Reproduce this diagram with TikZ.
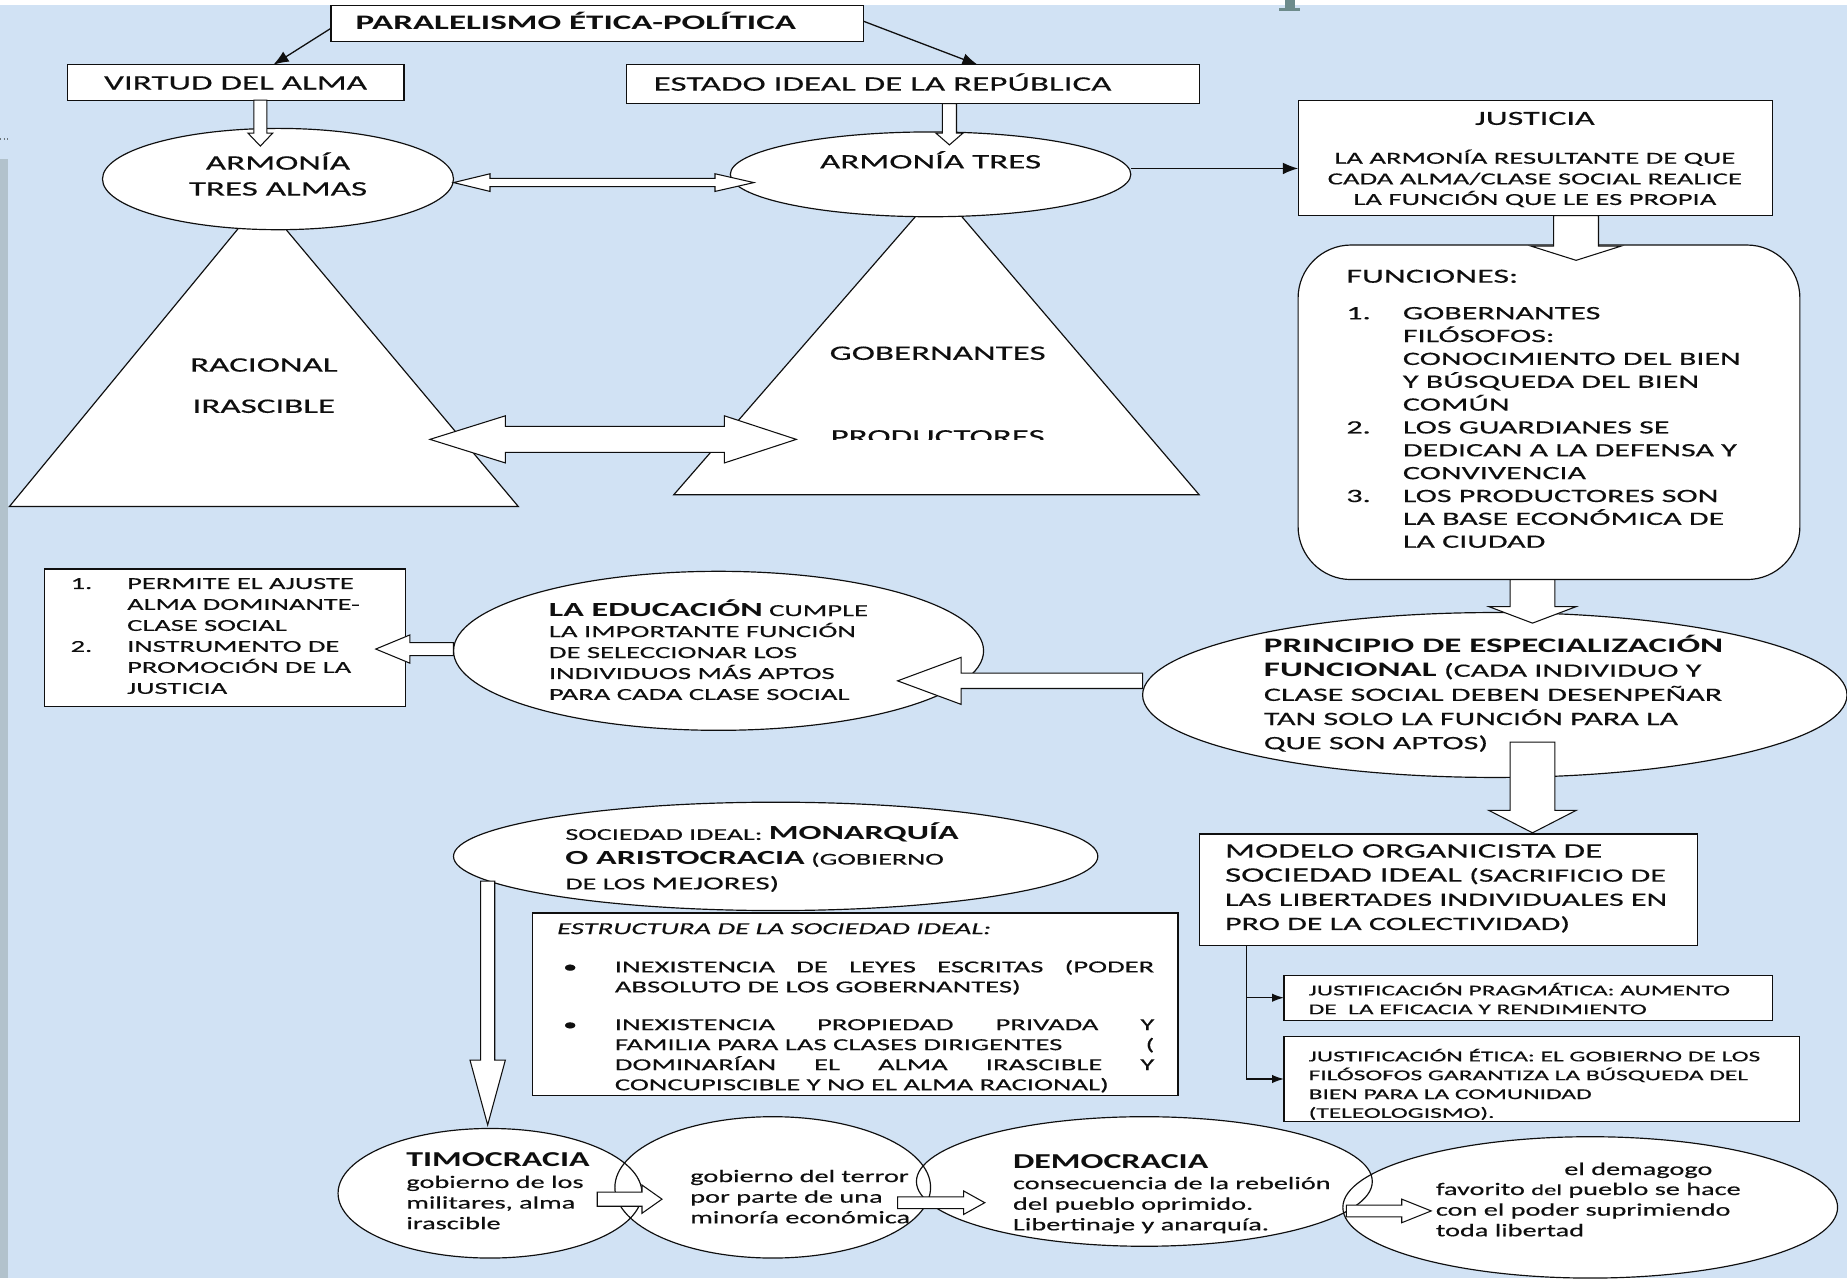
\documentclass[tikz,border=0pt]{standalone}
\usepackage{fontspec}
\setmainfont{Carlito}[FakeStretch=1.7, UprightFeatures={FakeBold=0.35}, ItalicFeatures={FakeBold=0.35}]
\newfontfamily\lowf{Carlito}[FakeStretch=1.6, UprightFeatures={FakeBold=0.35}]
\usetikzlibrary{shapes.geometric,arrows.meta,calc}
\definecolor{bgblue}{RGB}{209,226,244}
\definecolor{stripgray}{RGB}{178,194,204}
\definecolor{pgray}{RGB}{110,140,140}
\definecolor{ink}{RGB}{15,15,15}
\newcommand\fsz[2]{\fontsize{#1}{#2}\selectfont}
\newcommand\mlt[1]{\begin{tabular}[t]{@{}l@{}}#1\end{tabular}}
\newcommand\mct[1]{\begin{tabular}[t]{@{}c@{}}#1\end{tabular}}
\newcommand\nb[1]{\makebox[48pt][l]{#1}}
\newcommand\bl[1]{\makebox[44pt][l]{#1}}
\newcommand\hblk[6]{\draw[blk] (#1,#4-#5) -- (#2,#4-#5) -- (#2,#4-#6) -- (#3,#4) -- (#2,#4+#6) -- (#2,#4+#5) -- (#1,#4+#5) -- cycle;}
\newcommand\vblk[6]{\draw[blk] (#4-#5,#1) -- (#4-#5,#2) -- (#4-#6,#2) -- (#4,#3) -- (#4+#6,#2) -- (#4+#5,#2) -- (#4+#5,#1) -- cycle;}
\newcommand\hdbl[7]{\draw[blk] (#1,#5) -- (#2,#5-#7) -- (#2,#5-#6) -- (#3,#5-#6) -- (#3,#5-#7) -- (#4,#5) -- (#3,#5+#7) -- (#3,#5+#6) -- (#2,#5+#6) -- (#2,#5+#7) -- cycle;}
\tikzset{
 shp/.style={draw=ink, fill=white, line width=1pt, inner sep=0pt, outer sep=0pt},
 rbox/.style={shp, rectangle},
 ebox/.style={shp, ellipse},
 tx/.style={inner sep=0pt, outer sep=0pt, anchor=base west, text=ink},
 blk/.style={draw=ink, fill=white, line width=0.9pt, line join=miter},
 thinar/.style={draw=ink, line width=1.1pt, -{Latex[length=13pt,width=10pt]}},
 thinars/.style={draw=ink, line width=1pt, -{Latex[length=10pt,width=7pt]}},
}
\begin{document}
\begin{tikzpicture}[x=1pt,y=-1pt]
\useasboundingbox (0,0) rectangle (1568,1085);
% background
\fill[bgblue] (0,0) rectangle (1568,1085);
\fill[white] (0,0) rectangle (1568,4);
\fill[stripgray] (0,135) rectangle (7,1085);
\draw[stripgray!60!black, dotted, line width=1pt] (0,118) -- (8,118);
\fill[pgray] (1091,0) rectangle (1099,8);
\fill[pgray] (1086,7) rectangle (1104,9.5);

% top boxes
\node[rbox, minimum width=452pt, minimum height=30pt] (title) at (507,20) {};
\node[rbox, minimum width=286pt, minimum height=30pt] (virtud) at (200,70) {};
\node[rbox, minimum width=486pt, minimum height=33pt] (estado) at (775,71.5) {};
\node[tx] (ttitle) at (302,25) {\fsz{17.5}{21}\bfseries PARALELISMO ÉTICA-POLÍTICA};
\node[tx, anchor=base] (tvirtud) at (200,76) {\fsz{17.5}{21}VIRTUD DEL ALMA};
\node[tx] (testado) at (555,77) {\fsz{17.5}{21}ESTADO IDEAL DE LA REPÚBLICA};

% triangles
\filldraw[shp] (222,170) -- (8,430) -- (440,430) -- cycle;
\filldraw[shp] (797,161) -- (572,420) -- (1018,420) -- cycle;
\node[tx, anchor=base] (tracional) at (224,315.5) {\fsz{17.5}{21}RACIONAL};
\node[tx, anchor=base] (tirasc) at (224,350.5) {\fsz{17.5}{21}IRASCIBLE};
\node[tx, anchor=base] (tgob) at (796,305.5) {\fsz{17.5}{21}GOBERNANTES};
\begin{scope}
\clip (680,340) rectangle (920,373);
\node[tx, anchor=base] (tprod) at (796,376.5) {\fsz{17.5}{21}PRODUCTORES};
\end{scope}

% ellipses top
\node[ebox, minimum width=298pt, minimum height=86pt] (e1) at (236,152) {};
\node[ebox, minimum width=340pt, minimum height=72pt] (e2) at (790,148) {};
\node[tx, anchor=base] (te1) at (236,144) {\fsz{17.5}{22}\mct{ARMONÍA\\TRES ALMAS}};
\node[tx, anchor=base] (te2) at (790,143) {\fsz{17.5}{21}ARMONÍA TRES};

% justicia
\node[rbox, minimum width=403pt, minimum height=98pt] (just) at (1303.5,134) {};
\node[tx, anchor=base] (tjust) at (1303,106) {\fsz{17}{20}JUSTICIA};
\node[tx, anchor=base] (tjust2) at (1303,139) {\fsz{14.3}{17.5}\mct{LA ARMONÍA RESULTANTE DE QUE\\CADA ALMA/CLASE SOCIAL REALICE\\LA FUNCIÓN QUE LE ES PROPIA}};

% funciones
\node[rbox, rounded corners=45pt, minimum width=426pt, minimum height=284pt] (func) at (1315,350) {};
\node[tx] (tfunc) at (1143,240) {\fsz{17}{20}FUNCIONES:};
\node[tx] (tflist) at (1143,271) {\fsz{16}{19.4}\mlt{\nb{1.}GOBERNANTES\\\nb{}FILÓSOFOS:\\\nb{}CONOCIMIENTO DEL BIEN\\\nb{}Y BÚSQUEDA DEL BIEN\\\nb{}COMÚN\\\nb{2.}LOS GUARDIANES SE\\\nb{}DEDICAN A LA DEFENSA Y\\\nb{}CONVIVENCIA\\\nb{3.}LOS PRODUCTORES SON\\\nb{}LA BASE ECONÓMICA DE\\\nb{}LA CIUDAD}};

% principio
\node[ebox, minimum width=598pt, minimum height=140pt] (princ) at (1269,590) {};
\node[tx] (tprinc) at (1073,554) {\fsz{16}{20.5}\mlt{{\fsz{17.5}{20.5}\bfseries PRINCIPIO DE ESPECIALIZACIÓN}\\{\fsz{17.5}{20.5}\bfseries FUNCIONAL} (CADA INDIVIDUO Y\\CLASE SOCIAL DEBEN DESENPEÑAR\\TAN SOLO LA FUNCIÓN PARA LA\\QUE SON APTOS)}};

% educacion and list
\node[ebox, minimum width=450pt, minimum height=135pt] (edu) at (610,552.5) {};
\node[tx] (tedu) at (466,523) {\fsz{14.3}{17.8}\mlt{{\fsz{17}{17.8}\bfseries LA EDUCACIÓN} CUMPLE\\LA IMPORTANTE FUNCIÓN\\DE SELECCIONAR LOS\\INDIVIDUOS MÁS APTOS\\PARA CADA CLASE SOCIAL}};
\node[rbox, minimum width=306pt, minimum height=117pt] (lst) at (191,541.5) {};
\node[tx] (tlst) at (60,500) {\fsz{14.2}{17.8}\mlt{\nb{1.}PERMITE EL AJUSTE\\\nb{}ALMA DOMINANTE-\\\nb{}CLASE SOCIAL\\\nb{2.}INSTRUMENTO DE\\\nb{}PROMOCIÓN DE LA\\\nb{}JUSTICIA}};

% modelo
\node[rbox, minimum width=423pt, minimum height=95pt] (modelo) at (1229.5,755.5) {};
\node[tx] (tmod) at (1040,728) {\fsz{16}{20.5}\mlt{{\fsz{17.5}{20.5}MODELO ORGANICISTA DE}\\{\fsz{17.5}{20.5}SOCIEDAD IDEAL} (SACRIFICIO DE\\LAS LIBERTADES INDIVIDUALES EN\\PRO DE LA COLECTIVIDAD)}};
\node[rbox, minimum width=415pt, minimum height=38pt] (prag) at (1297.5,847) {};
\node[tx] (tprag) at (1111,845) {\fsz{12.7}{16}\mlt{JUSTIFICACIÓN PRAGMÁTICA: AUMENTO\\DE\ \ LA EFICACIA Y RENDIMIENTO}};
\node[rbox, minimum width=438pt, minimum height=72pt] (etica) at (1309,916) {};
\node[tx] (tet) at (1111,901) {\fsz{12.7}{16}\mlt{JUSTIFICACIÓN ÉTICA: EL GOBIERNO DE LOS\\FILÓSOFOS GARANTIZA LA BÚSQUEDA DEL\\BIEN PARA LA COMUNIDAD\\(TELEOLOGISMO).}};
\coordinate (m0) at ([xshift=40pt]modelo.south west);
\draw[thinars] (m0) |- (prag.west);
\draw[thinars] (m0) |- (etica.west);

% sociedad ideal
\node[ebox, minimum width=547pt, minimum height=92pt] (soc) at (658.5,727) {};
\node[tx] (tsoc) at (480,713) {\fsz{14}{21}\mlt{SOCIEDAD IDEAL: {\fsz{17}{21}\bfseries MONARQUÍA}\\{\fsz{17}{21}\bfseries O ARISTOCRACIA} (GOBIERNO\\DE LOS {\fsz{15.5}{21}MEJORES)}}};
\node[rbox, minimum width=548pt, minimum height=155pt] (estr) at (726,852.5) {};
\node[tx] (testr) at (473,793) {\fsz{14.3}{17}\itshape ESTRUCTURA DE LA SOCIEDAD IDEAL:};
\node[tx] (tbul) at (478,825.5) {\fsz{14.3}{17}\mlt{\bl{\textbullet}\makebox[458pt][s]{INEXISTENCIA DE LEYES ESCRITAS (PODER}\\\bl{}ABSOLUTO DE LOS GOBERNANTES)\\[15pt]\bl{\textbullet}\makebox[458pt][s]{INEXISTENCIA PROPIEDAD PRIVADA Y}\\\bl{}\makebox[458pt][l]{FAMILIA PARA LAS CLASES DIRIGENTES\hfill(}\\\bl{}\makebox[458pt][s]{DOMINARÍAN EL ALMA IRASCIBLE Y}\\\bl{}CONCUPISCIBLE Y NO EL ALMA RACIONAL)}};

% bottom ellipses
\fill[white] (416,1013) ellipse [x radius=129, y radius=55];
\fill[white] (656,1008) ellipse [x radius=134, y radius=60];
\fill[white] (971.5,1003) ellipse [x radius=193.5, y radius=55];
\fill[white] (1350,1025) ellipse [x radius=210, y radius=60];
\node[ebox, fill=none, minimum width=258pt, minimum height=110pt] (b1) at (416,1013) {};
\node[ebox, fill=none, minimum width=268pt, minimum height=120pt] (b2) at (656,1008) {};
\node[ebox, fill=none, minimum width=387pt, minimum height=110pt] (b3) at (971.5,1003) {};
\node[ebox, fill=none, minimum width=420pt, minimum height=120pt] (b4) at (1350,1025) {};
\node[tx] (ttimo) at (345,990) {\lowf\fsz{18}{20}\bfseries TIMOCRACIA};
\node[tx] (ttimo2) at (345,1008.5) {\lowf\fsz{15}{17.5}\mlt{gobierno de los\\militares, alma\\irascible}};
\node[tx] (tterr) at (586,1003.5) {\lowf\fsz{15}{17.5}\mlt{gobierno del terror\\por parte de una\\minoría económica}};
\node[tx] (tdemo) at (860,992) {\lowf\fsz{18}{20}\bfseries DEMOCRACIA};
\node[tx] (tdemo2) at (860,1009.5) {\lowf\fsz{15}{17.5}\mlt{consecuencia de la rebelión\\del pueblo oprimido.\\Libertinaje y anarquía.}};
\node[tx] (tdem1) at (1328,997.5) {\lowf\fsz{15}{17.5}el demagogo};
\node[tx] (tdem2) at (1219,1014.5) {\lowf\fsz{15}{17.5}\mlt{favorito {\fsz{13}{17.5}del} pueblo se hace\\con el poder suprimiendo\\toda libertad}};

% thin arrows
\draw[thinar] ([yshift=-4pt]title.west) -- ([xshift=32pt]virtud.north);
\draw[thinar] ([yshift=2pt]title.east) -- ([xshift=55pt]estado.north);
\coordinate (j1) at ([yshift=5pt]e2.east);
\draw[thinar] (j1) -- (j1 -| just.west);

% block arrows
\vblk{85}{113}{124}{221}{5.5}{10.5}
\vblk{88}{113}{123}{806}{6}{11.5}
\hdbl{385}{416}{607}{640}{155}{3.5}{7.5}
\hdbl{365}{429}{615}{676}{373}{11}{20}
\vblk{183}{209}{221}{1338}{19}{38}
\vblk{492}{515}{529}{1301}{19}{37}
\vblk{630}{688}{707}{1301}{19}{37}
\hblk{970}{816}{762}{578}{6.5}{20}
\hblk{385}{348}{319}{551}{5.5}{12}
\vblk{748}{900}{955}{414}{6}{15}
\hblk{507}{545}{562}{1018}{6}{12}
\hblk{762}{818}{836}{1021}{5}{10}
\hblk{1143}{1190}{1215}{1028}{5}{10}
\end{tikzpicture}
\end{document}
